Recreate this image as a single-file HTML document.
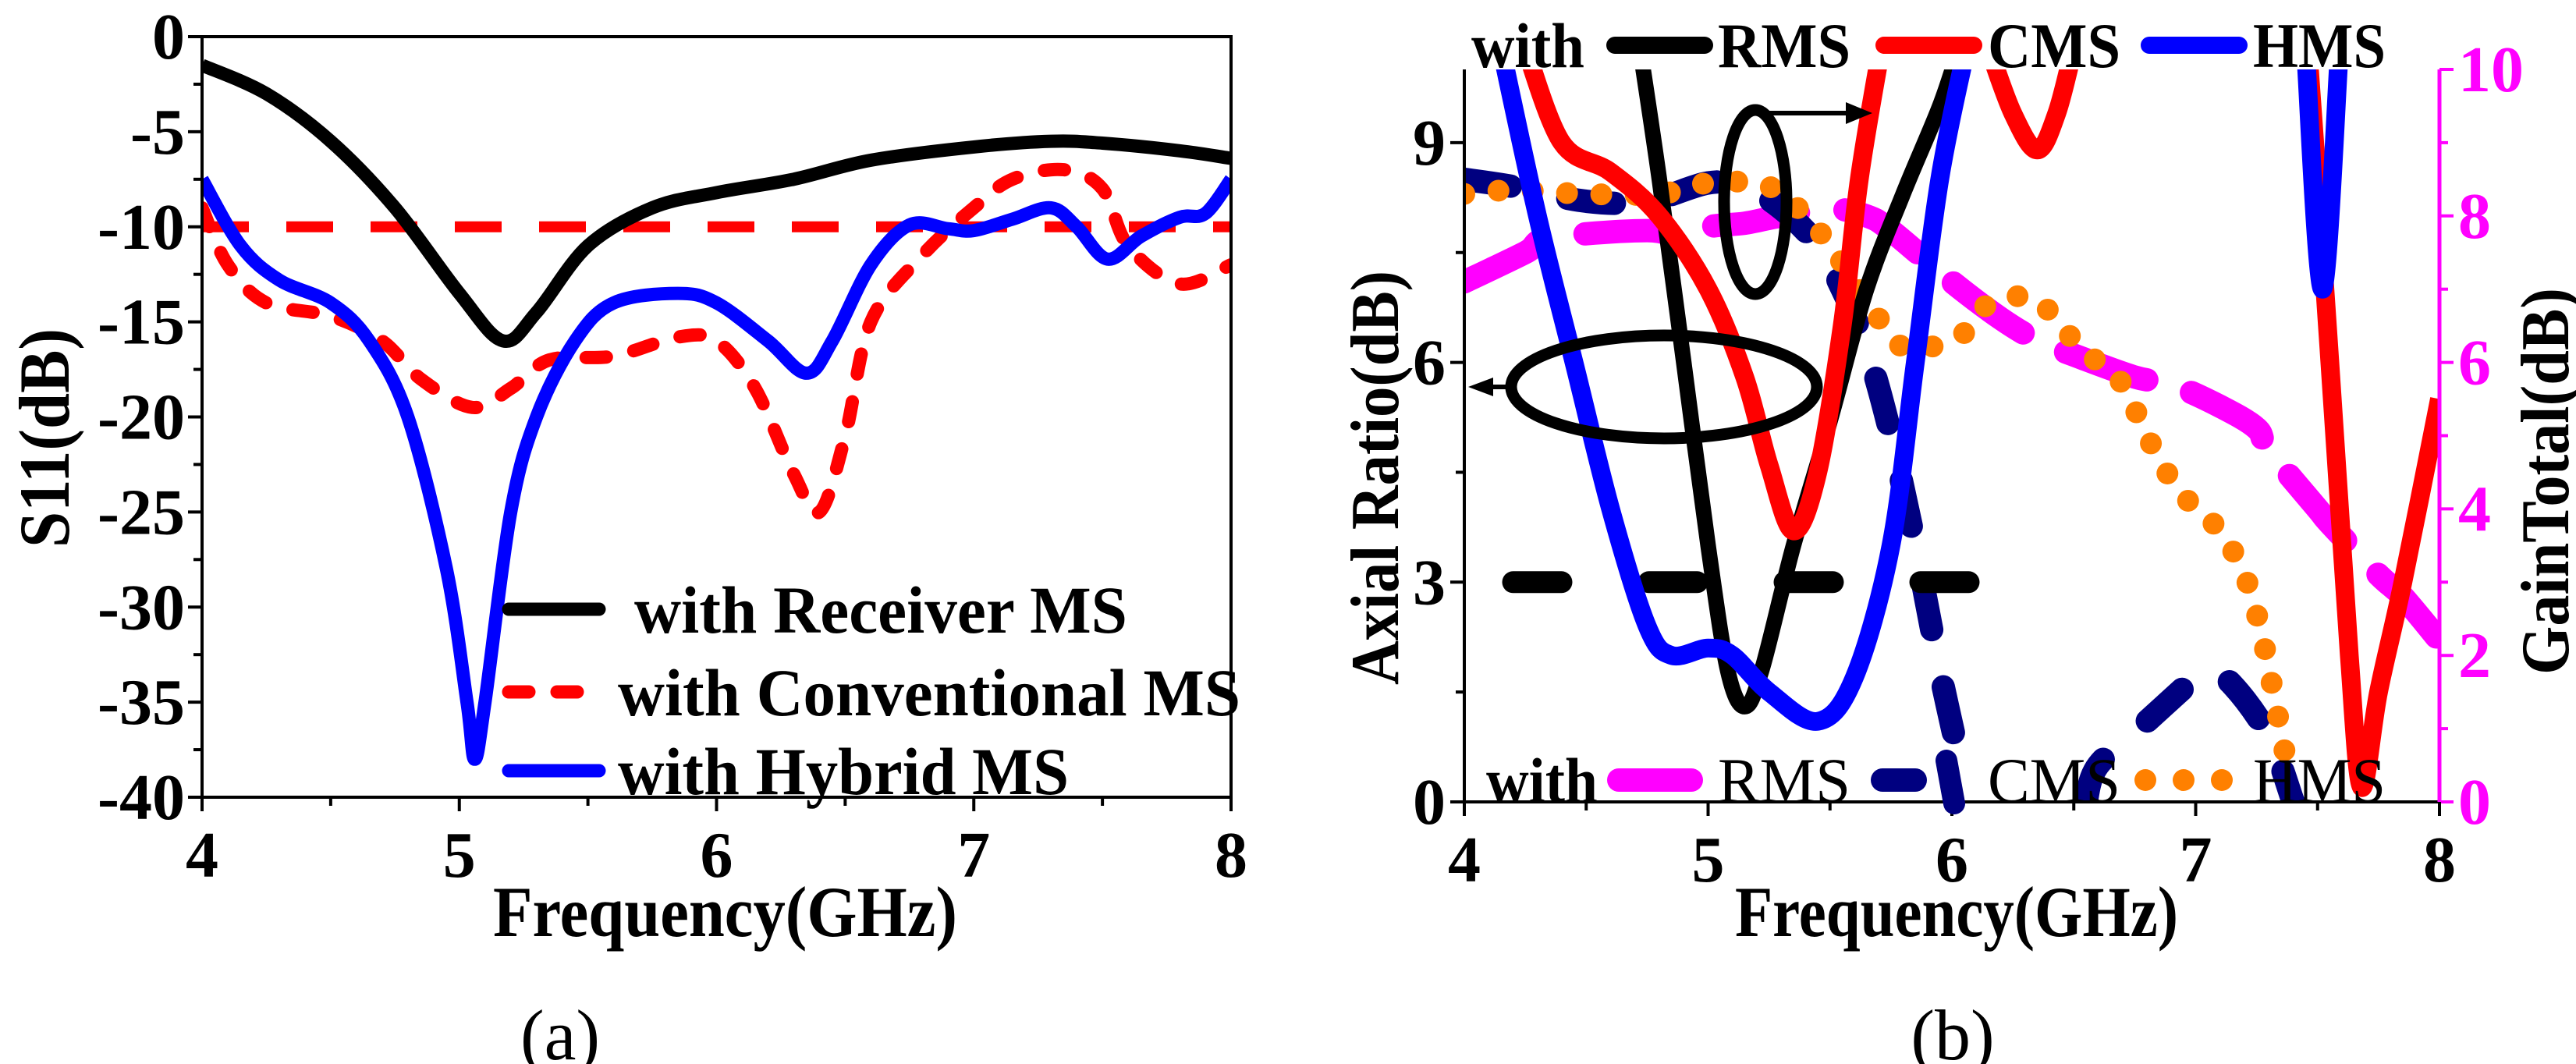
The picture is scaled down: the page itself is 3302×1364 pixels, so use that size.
<!DOCTYPE html>
<html><head><meta charset="utf-8"><style>
html,body{margin:0;padding:0;background:#fff;}
svg{display:block;}
text{font-family:"Liberation Serif","DejaVu Serif",serif;}
</style></head><body>
<svg id="chart" width="3302" height="1364" viewBox="0 0 3302 1364" xmlns="http://www.w3.org/2000/svg" font-family="Liberation Serif, DejaVu Serif, serif">
<defs>
<clipPath id="clipA"><rect x="259" y="47" width="1319" height="975"/></clipPath>
<clipPath id="clipB"><rect x="1877" y="89" width="1250" height="939"/></clipPath>
</defs>
<g id="panelA"></g>
<g id="panelB"></g>
</svg>
<script>
// ---------- Panel (a) data ----------
const aRecvX=[4,4.25,4.5,4.75,5,5.17,5.3,5.5,5.75,6,6.3,6.6,7,7.3,7.5,7.8,8];
const aRecvY=[-1.5,-3,-5.5,-9,-13.5,-16,-14.5,-11,-9,-8.2,-7.5,-6.5,-5.8,-5.5,-5.6,-6,-6.4];
const aConvX=[4,4.1,4.25,4.5,4.7,4.85,5.05,5.2,5.35,5.6,5.85,6,6.15,6.3,6.4,6.5,6.6,6.8,7,7.15,7.35,7.5,7.6,7.8,8];
const aConvY=[-9,-12,-14,-14.7,-16,-18,-19.5,-18.5,-17,-16.8,-15.8,-16,-18.5,-23,-25,-21,-15,-11.5,-9,-7.5,-7,-8,-11,-13,-12];
const aHybX=[4,4.15,4.3,4.5,4.65,4.8,4.95,5.03,5.06,5.1,5.2,5.3,5.45,5.6,5.85,6,6.2,6.35,6.45,6.6,6.75,6.9,7,7.15,7.3,7.4,7.52,7.65,7.8,7.9,8];
const aHybY=[-7.5,-11,-12.8,-14,-16,-20,-28,-35,-38,-35,-25,-20,-16,-14,-13.5,-14,-16,-17.7,-16,-12,-9.9,-10.1,-10.2,-9.6,-9,-10,-11.7,-10.5,-9.5,-9.3,-7.5];
const aRefLevel=-10;
const aXTicks=[4,5,6,7,8];
const aYTicks=[0,-5,-10,-15,-20,-25,-30,-35,-40];
const aLegend=["with Receiver MS","with Conventional MS","with Hybrid MS"];
// ---------- Panel (b) data ----------
const bRmsArX=[4.72,4.8,4.9,5.0,5.08,5.15,5.22,5.35,5.5,5.65,5.8,5.95,6.03];
const bRmsArY=[10.3,8.5,6,3.5,1.8,1.3,1.8,3.5,5.2,7,8.3,9.5,10.3];
const bCmsAr1X=[4.25,4.4,4.6,4.8,5.0,5.15,5.25,5.35,5.45,5.55,5.62,5.71];
const bCmsAr1Y=[10.3,9,8.6,8,7,5.8,4.6,3.7,4.5,6.5,8.5,10.3];
const bCmsAr2X=[6.15,6.25,6.35,6.43,6.5];
const bCmsAr2Y=[10.3,9.4,8.9,9.4,10.3];
const bCmsAr3X=[7.46,7.52,7.58,7.63,7.68,7.75,7.85,8.0];
const bCmsAr3Y=[10.3,7.5,4.5,2,0.2,1.5,3,5.5];
const bHmsAr1X=[4.15,4.3,4.45,4.6,4.75,4.85,5.0,5.1,5.25,5.45,5.6,5.75,5.85,5.95,6.06];
const bHmsAr1Y=[10.3,8,6,4,2.4,2.0,2.1,2.0,1.5,1.1,1.7,3.5,6,8.5,10.3];
const bHmsAr2X=[7.45,7.52,7.59];
const bHmsAr2Y=[10.3,7,10.3];
const bRefX=[4.2,6.07];
const bRefY=3;
const bRmsGX=[4,4.25,4.35,4.75,4.9,5.0,5.15,5.3,5.5,5.65,5.75,6.0,6.2,6.35,6.5,6.75,6.9,7.1,7.25,7.3,7.5,7.55,7.75,7.85,8];
const bRmsGY=[7.1,7.5,7.7,7.8,7.7,7.85,7.9,8.0,8.1,8.0,7.8,7.1,6.6,6.3,6.1,5.8,5.7,5.4,5.1,4.8,4.0,3.8,3.1,2.8,2.2];
const bCmsG1X=[4,4.2,4.5,4.75,5.0,5.15,5.3,5.45,5.55,5.65,5.75,5.85,5.95,6.05];
const bCmsG1Y=[8.5,8.4,8.2,8.2,8.45,8.4,8.1,7.6,7.0,6.2,5.0,3.5,1.8,0.3];
const bCmsG2X=[6.55,6.6,6.8,7.0,7.05,7.15,7.3,7.4];
const bCmsG2Y=[0,0.5,1.1,1.7,1.8,1.6,0.9,0];
const bHmsGX=[4,4.2,4.5,4.8,5.0,5.2,5.3,5.4,5.5,5.6,5.7,5.8,5.9,6.05,6.15,6.3,6.4,6.5,6.6,6.7,6.8,6.9,7.0,7.1,7.2,7.27,7.33,7.37];
const bHmsGY=[8.3,8.35,8.3,8.3,8.45,8.45,8.3,8.0,7.6,7.1,6.6,6.2,6.2,6.4,6.8,6.9,6.7,6.3,6.0,5.7,5.0,4.4,4.0,3.7,3.1,2.3,1.3,0.6];
const bXTicks=[4,5,6,7,8];
const bArTicks=[0,3,6,9];
const bGainTicks=[0,2,4,6,8,10];

const NS="http://www.w3.org/2000/svg";
const FF="Liberation Serif, DejaVu Serif, serif";
function mk(parent,tag,attrs,text){const e=document.createElementNS(NS,tag);for(const k in attrs)e.setAttribute(k,attrs[k]);if(tag==='text')e.setAttribute('font-family',FF);if(text!==undefined)e.textContent=text;parent.appendChild(e);return e;}
function fit(el,len){el.setAttribute('textLength',len);el.setAttribute('lengthAdjust','spacingAndGlyphs');}
function smooth(pts){let d="M"+pts[0][0].toFixed(1)+","+pts[0][1].toFixed(1);for(let i=0;i<pts.length-1;i++){const p0=pts[Math.max(0,i-1)],p1=pts[i],p2=pts[i+1],p3=pts[Math.min(pts.length-1,i+2)];const c1=[p1[0]+(p2[0]-p0[0])/6,p1[1]+(p2[1]-p0[1])/6],c2=[p2[0]-(p3[0]-p1[0])/6,p2[1]-(p3[1]-p1[1])/6];d+="C"+c1[0].toFixed(1)+","+c1[1].toFixed(1)+" "+c2[0].toFixed(1)+","+c2[1].toFixed(1)+" "+p2[0].toFixed(1)+","+p2[1].toFixed(1);}return d;}

// ---------- Panel (a) ----------
const A=document.getElementById('panelA');
const axL=259,axR=1578,ayT=47,ayB=1022;
const ax=v=>axL+(v-4)/4*(axR-axL);
const ay=v=>ayT+(0-v)/40*(ayB-ayT);
const aPlot=mk(A,'g',{'clip-path':'url(#clipA)'});


let e;
e=mk(aPlot,'line',{x1:ax(4),x2:ax(8),y1:ay(aRefLevel),y2:ay(aRefLevel),stroke:'#ff0000','stroke-width':14,'stroke-dasharray':'60 48'});


function seriesA(xs,ys,col,dash,name){const p=mk(aPlot,'path',{d:smooth(xs.map((x,i)=>[ax(x),ay(ys[i])])),fill:'none',stroke:col,'stroke-width':17,'stroke-linejoin':'round','stroke-linecap':dash?'round':'butt'});if(dash)p.setAttribute('stroke-dasharray',dash);}
seriesA(aConvX,aConvY,'#ff0000','26 36','series-conventional-ms');
seriesA(aRecvX,aRecvY,'#000000',null,'series-receiver-ms');
seriesA(aHybX,aHybY,'#0000ff',null,'series-hybrid-ms');
e=mk(A,'rect',{x:axL,y:ayT,width:axR-axL,height:ayB-ayT,fill:'none',stroke:'#000','stroke-width':4});


aYTicks.forEach(v=>{const y=ay(v);mk(A,'line',{x1:axL-18,x2:axL,y1:y,y2:y,stroke:'#000','stroke-width':4});
 const t=mk(A,'text',{x:axL-22,y:y+28,'text-anchor':'end','font-size':84,'font-weight':'bold'},v===0?'0':String(v));
 
 });
for(let v=-2.5;v>-40;v-=5){const y=ay(v);mk(A,'line',{x1:axL-11,x2:axL,y1:y,y2:y,stroke:'#000','stroke-width':4});}
aXTicks.forEach(v=>{const x=ax(v);mk(A,'line',{x1:x,x2:x,y1:ayB,y2:ayB+18,stroke:'#000','stroke-width':4});
 const t=mk(A,'text',{x:x,y:ayB+102,'text-anchor':'middle','font-size':84,'font-weight':'bold'},String(v));
 
 });
for(let v=4.5;v<8;v+=1){const x=ax(v);mk(A,'line',{x1:x,x2:x,y1:ayB,y2:ayB+11,stroke:'#000','stroke-width':4});}
e=mk(A,'text',{x:632,y:1200,'font-size':92,'font-weight':'bold'},'Frequency(GHz)');
fit(e,595);


e=mk(A,'text',{x:0,y:0,transform:'translate(88,702) rotate(-90)','font-size':92,'font-weight':'bold'},'S11(dB)');
fit(e,281);


const legCols=['#000000','#ff0000','#0000ff'],legY=[781,887,988],legTX=[813,792,792],legW=[632,798,578];
aLegend.forEach((s,i)=>{const g=mk(A,'g',{});
 const l=mk(g,'line',{x1:652,x2:768,y1:legY[i],y2:legY[i],stroke:legCols[i],'stroke-width':17,'stroke-linecap':'round'});
 if(i===1)l.setAttribute('stroke-dasharray','26 36');
 const t=mk(g,'text',{x:legTX[i],y:legY[i]+30,'font-size':86,'font-weight':'bold'},s);
 fit(t,legW[i]);});
e=mk(A,'text',{x:718,y:1358,'text-anchor':'middle','font-size':92},'(a)');



// ---------- Panel (b) ----------
const B=document.getElementById('panelB');
const bxL=1877,bxR=3127,byT=89,byB=1028;
const bx=v=>bxL+(v-4)/4*(bxR-bxL);
const by=v=>byB-v/10*(byB-byT);
const bPlot=mk(B,'g',{'clip-path':'url(#clipB)'});


function seriesB(xs,ys,col,w,dash,name){const p=mk(bPlot,'path',{d:smooth(xs.map((x,i)=>[bx(x),by(ys[i])])),fill:'none',stroke:col,'stroke-width':w,'stroke-linejoin':'round','stroke-linecap':dash?'round':'butt'});if(dash)p.setAttribute('stroke-dasharray',dash);}
seriesB(bRmsGX,bRmsGY,'#ff00ff',30,'110 60','gain-rms');
seriesB(bCmsG1X,bCmsG1Y,'#000080',30,'60 75','gain-cms');
seriesB(bCmsG2X,bCmsG2Y,'#000080',30,'60 75','gain-cms-2');
seriesB(bHmsGX,bHmsGY,'#ff8000',28,'0 44','gain-hms');
e=mk(bPlot,'line',{x1:bx(bRefX[0]),x2:bx(bRefX[1]),y1:by(bRefY),y2:by(bRefY),stroke:'#000','stroke-width':28,'stroke-linecap':'round','stroke-dasharray':'62 112'});


seriesB(bRmsArX,bRmsArY,'#000000',20,null,'ar-rms');
seriesB(bCmsAr1X,bCmsAr1Y,'#ff0000',24,null,'ar-cms');
seriesB(bCmsAr2X,bCmsAr2Y,'#ff0000',24,null,'ar-cms-2');
seriesB(bCmsAr3X,bCmsAr3Y,'#ff0000',24,null,'ar-cms-3');
seriesB(bHmsAr1X,bHmsAr1Y,'#0000ff',24,null,'ar-hms');
seriesB(bHmsAr2X,bHmsAr2Y,'#0000ff',24,null,'ar-hms-2');
// annotations
e=mk(B,'ellipse',{cx:2250,cy:259,rx:40,ry:118,fill:'none',stroke:'#000','stroke-width':15});


e=mk(B,'line',{x1:2250,y1:145,x2:2380,y2:145,stroke:'#000','stroke-width':6});


mk(B,'polygon',{points:'2400,145 2366,131 2366,159',fill:'#000'});
e=mk(B,'ellipse',{cx:2133,cy:496,rx:196,ry:66,fill:'none',stroke:'#000','stroke-width':15});


e=mk(B,'line',{x1:1937,y1:496,x2:1900,y2:496,stroke:'#000','stroke-width':6});


mk(B,'polygon',{points:'1882,496 1914,484 1914,508',fill:'#000'});
// axes
mk(B,'line',{x1:bxL,x2:bxL,y1:byT,y2:byB,stroke:'#000','stroke-width':4});
mk(B,'line',{x1:bxL-18,x2:bxR,y1:byB,y2:byB,stroke:'#000','stroke-width':4});
mk(B,'line',{x1:bxR,x2:bxR,y1:byT,y2:byB,stroke:'#ff00ff','stroke-width':5});
bArTicks.forEach(v=>{const y=by(v);mk(B,'line',{x1:bxL-18,x2:bxL,y1:y,y2:y,stroke:'#000','stroke-width':4});
 const t=mk(B,'text',{x:bxL-24,y:y+28,'text-anchor':'end','font-size':84,'font-weight':'bold'},String(v));
 
 });
for(let v=1.5;v<10;v+=3){const y=by(v);mk(B,'line',{x1:bxL-11,x2:bxL,y1:y,y2:y,stroke:'#000','stroke-width':4});}
bGainTicks.forEach(v=>{const y=by(v);mk(B,'line',{x1:bxR,x2:bxR+18,y1:y,y2:y,stroke:'#ff00ff','stroke-width':4});
 const t=mk(B,'text',{x:bxR+24,y:y+28,'font-size':84,'font-weight':'bold',fill:'#ff00ff'},String(v));
 
 });
for(let v=1;v<10;v+=2){const y=by(v);mk(B,'line',{x1:bxR,x2:bxR+11,y1:y,y2:y,stroke:'#ff00ff','stroke-width':4});}
bXTicks.forEach(v=>{const x=bx(v);mk(B,'line',{x1:x,x2:x,y1:byB,y2:byB+18,stroke:'#000','stroke-width':4});
 const t=mk(B,'text',{x:x,y:byB+102,'text-anchor':'middle','font-size':84,'font-weight':'bold'},String(v));
 
 });
for(let v=4.5;v<8;v+=1){const x=bx(v);mk(B,'line',{x1:x,x2:x,y1:byB,y2:byB+11,stroke:'#000','stroke-width':4});}
e=mk(B,'text',{x:2224,y:1200,'font-size':92,'font-weight':'bold'},'Frequency(GHz)');
fit(e,568);


e=mk(B,'text',{x:0,y:0,transform:'translate(1792,878) rotate(-90)','font-size':88,'font-weight':'bold'},'Axial Ratio(dB)');
fit(e,531);


e=mk(B,'text',{x:0,y:0,transform:'translate(3292,865) rotate(-90)','font-size':88,'font-weight':'bold'},'GainTotal(dB)');
fit(e,496);


// top legend
const tl=mk(B,'g',{});


e=mk(tl,'text',{x:1886,y:86,'font-size':82,'font-weight':'bold'},'with');
fit(e,145);
[['#000000',2070,'RMS',2202],['#ff0000',2415,'CMS',2548],['#0000ff',2755,'HMS',2888]].forEach(a=>{
 mk(tl,'line',{x1:a[1],x2:a[1]+115,y1:58,y2:58,stroke:a[0],'stroke-width':22,'stroke-linecap':'round'});
 const t=mk(tl,'text',{x:a[3],y:86,'font-size':82,'font-weight':'bold'},a[2]);
 fit(t,170);});
// bottom legend
const bl=mk(B,'g',{});


e=mk(bl,'text',{x:1905,y:1028,'font-size':82,'font-weight':'bold'},'with');
fit(e,143);
mk(bl,'line',{x1:2075,x2:2168,y1:1000,y2:1000,stroke:'#ff00ff','stroke-width':30,'stroke-linecap':'round'});
e=mk(bl,'text',{x:2202,y:1028,'font-size':82},'RMS');
fit(e,170);
mk(bl,'line',{x1:2413,x2:2455,y1:1000,y2:1000,stroke:'#000080','stroke-width':30,'stroke-linecap':'round'});
mk(bl,'line',{x1:2495,x2:2505,y1:975,y2:1030,stroke:'#000080','stroke-width':28,'stroke-linecap':'round'});
e=mk(bl,'text',{x:2548,y:1028,'font-size':82},'CMS');
fit(e,170);
mk(bl,'line',{x1:2750,x2:2880,y1:1000,y2:1000,stroke:'#ff8000','stroke-width':28,'stroke-linecap':'round','stroke-dasharray':'0 49'});
e=mk(bl,'text',{x:2888,y:1028,'font-size':82},'HMS');
fit(e,170);
e=mk(B,'text',{x:2503,y:1358,'text-anchor':'middle','font-size':92},'(b)');


</script>
</body></html>
